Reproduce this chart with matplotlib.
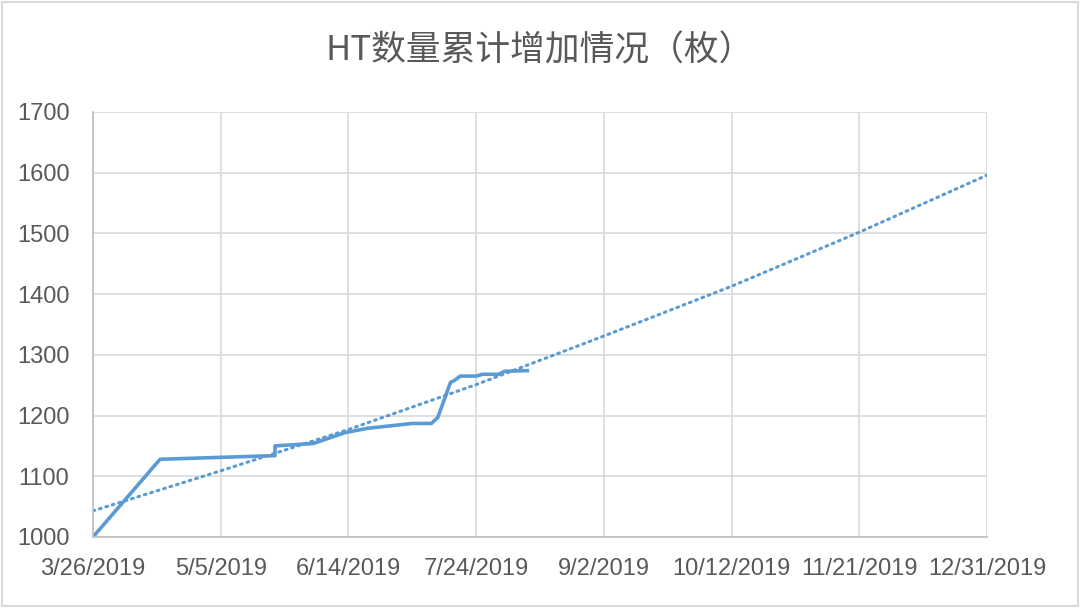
import numpy as np
import pandas as pd
import matplotlib
matplotlib.use('Agg')
import matplotlib.pyplot as plt
import matplotlib.dates as mdates
from matplotlib.patches import Rectangle

plt.rcParams['font.family'] = ['Liberation Sans', 'Noto Sans CJK SC', 'DejaVu Sans']

# data
dates = ['2019-03-26', '2019-04-16', '2019-05-22', '2019-05-22', '2019-06-03',
         '2019-06-13', '2019-06-20', '2019-07-04', '2019-07-10', '2019-07-12',
         '2019-07-16', '2019-07-17', '2019-07-19', '2019-07-24', '2019-07-26',
         '2019-07-31', '2019-08-02', '2019-08-09']
counts = [1000, 1128, 1134, 1150, 1154, 1172, 1179, 1187, 1187, 1197,
          1255, 1257, 1265, 1265, 1268, 1268, 1273, 1274]

# exponential trendline (excel), values at the gridlines
trend_dates = ['2019-03-26', '2019-05-05', '2019-06-14', '2019-07-24',
               '2019-09-02', '2019-10-12', '2019-11-21', '2019-12-31']
trend_values = [1043, 1109, 1177, 1251, 1331, 1413, 1502, 1596]

tick_dates = ['2019-03-26', '2019-05-05', '2019-06-14', '2019-07-24',
              '2019-09-02', '2019-10-12', '2019-11-21', '2019-12-31']
tick_labels = ['3/26/2019', '5/5/2019', '6/14/2019', '7/24/2019',
               '9/2/2019', '10/12/2019', '11/21/2019', '12/31/2019']
yticks = [1000, 1100, 1200, 1300, 1400, 1500, 1600, 1700]

title = 'HT数量累计增加情况（枚）'

x = mdates.date2num(pd.to_datetime(dates))
tx = mdates.date2num(pd.to_datetime(trend_dates))
xt = mdates.date2num(pd.to_datetime(tick_dates))

fig = plt.figure(figsize=(10.8, 6.08), dpi=100)
ax = fig.add_axes([0.0861, 0.1168, 0.8278, 0.699])

ax.plot(tx, trend_values, color='#5B9BD5', lw=2.2, ls=(0, (0.6, 1.6)),
        dash_capstyle='round')
ax.plot(x, counts, color='#5B9BD5', lw=2.6, solid_joinstyle='round')

ax.set_xlim(xt[0], xt[-1])
ax.set_ylim(1000, 1700)
ax.set_xticks(xt)
ax.set_xticklabels(tick_labels)
ax.set_yticks(yticks)
ax.grid(True, color='#d9d9d9', lw=1.2)
ax.set_axisbelow(True)
for s in ['top', 'right']:
    ax.spines[s].set_visible(False)
for s in ['left', 'bottom']:
    ax.spines[s].set_color('#bfbfbf')
    ax.spines[s].set_linewidth(1.2)
ax.tick_params(length=0, labelsize=17, colors='#595959')
ax.tick_params(axis='y', pad=17)
ax.tick_params(axis='x', pad=15)

fig.text(0.5, 0.916, title, ha='center', va='center', fontsize=25, color='#595959',
         family=['Noto Sans CJK SC', 'DejaVu Sans'])
fig.patches.append(Rectangle((0.002, 0.003), 0.996, 0.994, transform=fig.transFigure,
                             fill=False, edgecolor='#d9d9d9', lw=1.5))

fig.savefig('out.png', dpi=100)
